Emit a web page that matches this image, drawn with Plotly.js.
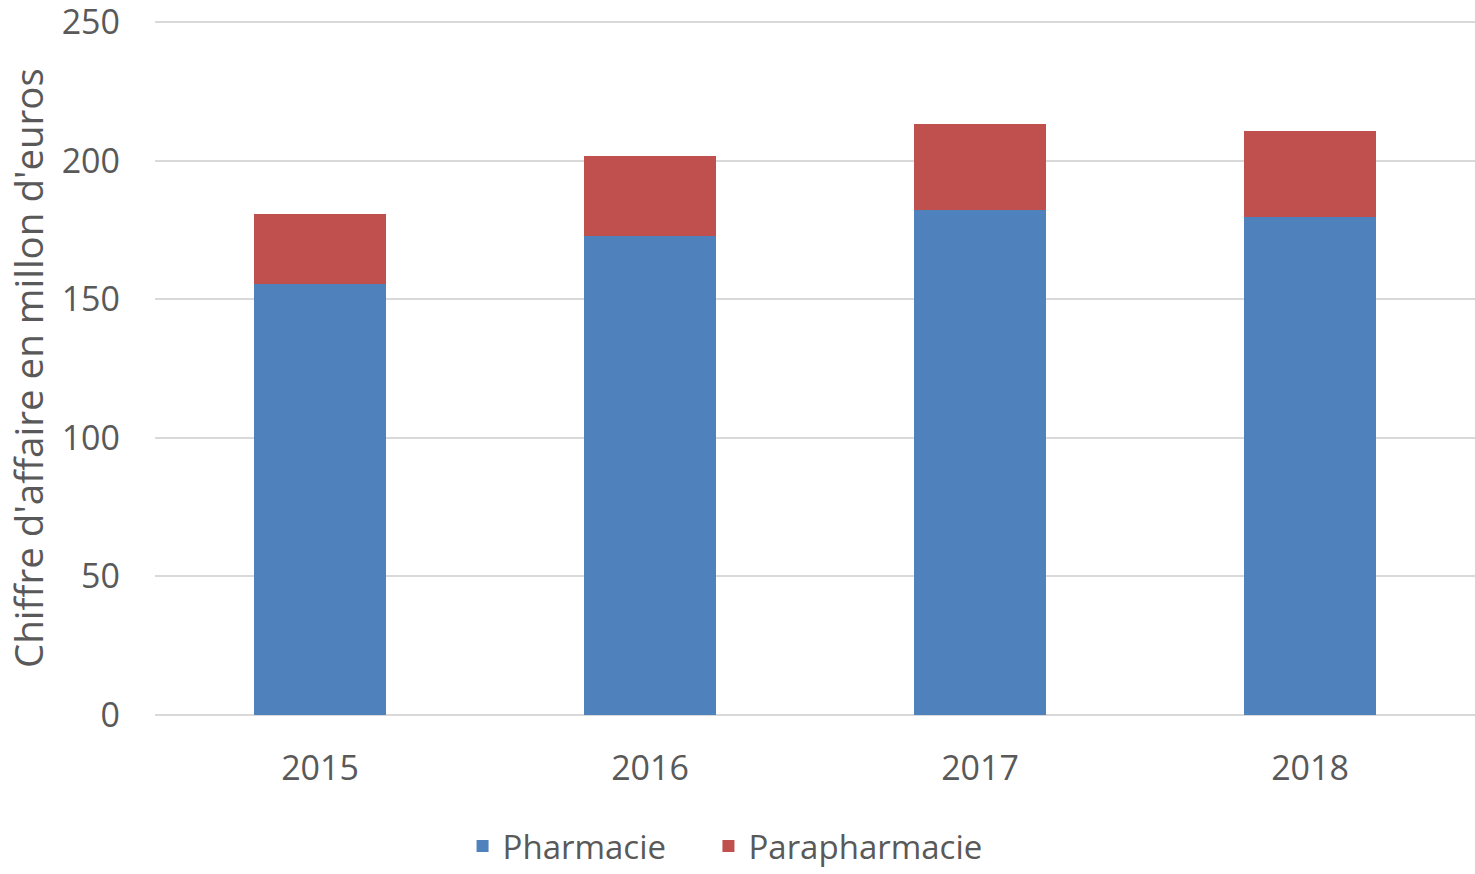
<!DOCTYPE html>
<html>
<head>
<meta charset="utf-8">
<script src="https://cdn.plot.ly/plotly-3.0.1.min.js"></script>
<style>html,body{margin:0;padding:0;background:#fff;}#chart{width:1475px;height:874px;}</style>
</head>
<body>
<div id="chart"></div>
<script>
const years = ['2015', '2016', '2017', '2018'];
const pharmacie = [155.5, 172.9, 182.2, 179.8];
const parapharmacie = [25.1, 28.8, 31.0, 31.0];
const yTicks = [0, 50, 100, 150, 200, 250];
const yTitle = "Chiffre d'affaire en millon d'euros";

const font = {family: 'Open Sans, sans-serif', color: '#595959'};

const data = [
  {type: 'bar', name: 'Pharmacie', x: years, y: pharmacie,
   marker: {color: '#4f81bd'}, legend: 'legend'},
  {type: 'bar', name: 'Parapharmacie', x: years, y: parapharmacie,
   marker: {color: '#c0504d'}, legend: 'legend2'}
];

const legendBase = {
  orientation: 'h', xref: 'container', xanchor: 'left',
  y: 0, yref: 'container', yanchor: 'bottom',
  font: Object.assign({size: 33}, font),
  itemwidth: 30, bgcolor: 'rgba(0,0,0,0)'
};

const layout = {
  width: 1475, height: 874,
  barmode: 'stack',
  bargap: 0.6,
  paper_bgcolor: '#fff', plot_bgcolor: '#fff',
  margin: {l: 155, r: 0, t: 21, b: 159},
  font: Object.assign({size: 33}, font),
  xaxis: {
    type: 'category', automargin: false,
    showgrid: false, zeroline: false, showline: false,
    ticks: '', ticklabelstandoff: 30,
    tickfont: Object.assign({size: 34}, font)
  },
  yaxis: {
    range: [0, 250.4], automargin: false,
    tickvals: yTicks,
    ticklabeloverflow: 'allow',
    showgrid: true, gridcolor: '#d9d9d9', gridwidth: 2,
    zeroline: true, zerolinecolor: '#d9d9d9', zerolinewidth: 2,
    showline: false, ticks: '',
    ticklabelstandoff: 34,
    tickfont: Object.assign({size: 34}, font)
  },
  annotations: [{
    text: yTitle, textangle: -90, showarrow: false,
    xref: 'paper', yref: 'paper', x: -0.0962, xanchor: 'center',
    y: 0.5, yanchor: 'middle',
    font: Object.assign({size: 38.5}, font)
  }],
  legend: Object.assign({}, legendBase, {x: 0.3136}),
  legend2: Object.assign({}, legendBase, {x: 0.4803}),
  showlegend: true
};

Plotly.newPlot('chart', data, layout, {displayModeBar: false});
</script>
</body>
</html>
